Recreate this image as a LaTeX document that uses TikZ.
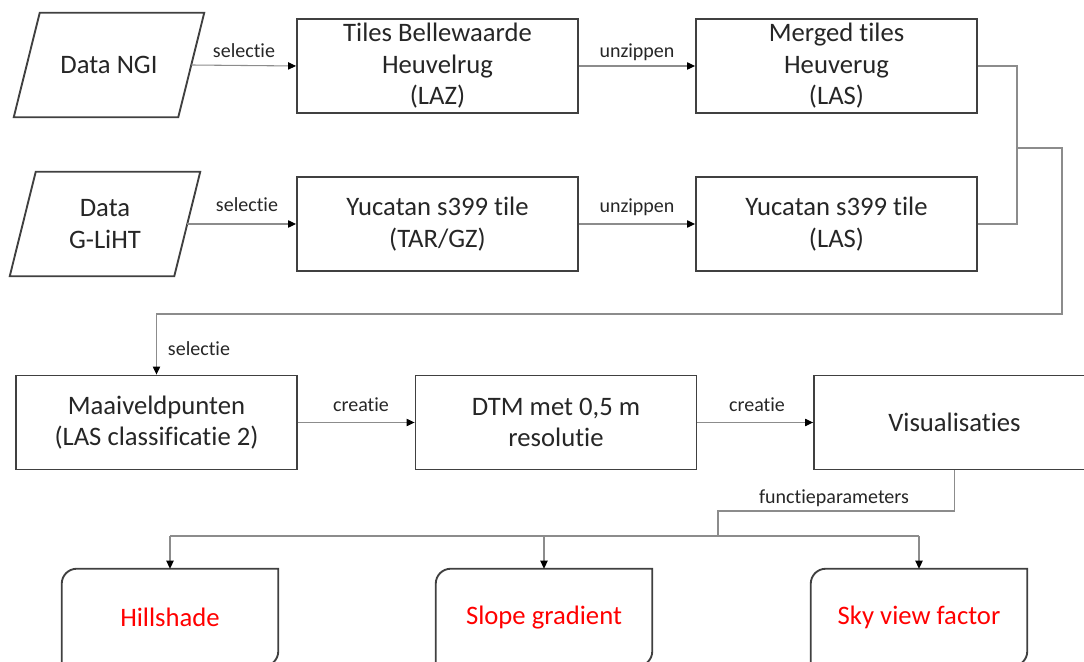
\documentclass[tikz,border=0pt]{standalone}
\usepackage{fontspec}
\setmainfont{Carlito}[Ligatures={NoCommon,NoContextual}]
\usetikzlibrary{arrows.meta,calc}
\definecolor{txt}{HTML}{262626}
\definecolor{bord}{HTML}{404040}
\definecolor{connc}{HTML}{8C8C8C}
\begin{document}
\begin{tikzpicture}[x=0.75pt,y=0.75pt,
  boxnode/.style={draw=bord,line width=1.4pt,minimum width=210.75pt,minimum height=70.5pt,inner sep=0pt,align=center,text=txt,font=\fontsize{20}{23.6}\selectfont},
  ionode/.style={minimum width=123pt,minimum height=78pt,inner sep=0pt,align=center,text=txt,font=\fontsize{20}{23.6}\selectfont},
  endnode/.style={minimum width=162pt,minimum height=72.75pt,inner sep=0pt,align=center,text=red,font=\fontsize{20}{23.6}\selectfont},
  outline/.style={draw=bord,line width=1.4pt},
  conn/.style={draw=connc,line width=0.8pt},
  arr/.style={conn,-{Triangle[length=6pt,width=5.5pt,color=black]}},
  lbl/.style={font=\fontsize{15}{18}\selectfont,text=txt,inner sep=1pt}
]
\useasboundingbox (0,0) rectangle (1084,661);
\begin{scope}
\clip (0,0) rectangle (1084,661);
% row 1
\node[ionode] (ngi) at (109,596) {Data NGI};
\draw[outline] ([xshift=9.75pt]ngi.north west) -- ([xshift=9.75pt]ngi.north east) -- ([xshift=-9.75pt]ngi.south east) -- ([xshift=-9.75pt]ngi.south west) -- cycle;
\node[boxnode] (tiles) at (437.5,595) {Tiles Bellewaarde\\Heuvelrug\\(LAZ)};
\node[boxnode] (merged) at (836.5,595) {Merged tiles\\Heuverug\\(LAS)};
% row 2
\node[ionode] (gliht) at (105,437) {Data\\G-LiHT};
\draw[outline] ([xshift=9.75pt]gliht.north west) -- ([xshift=9.75pt]gliht.north east) -- ([xshift=-9.75pt]gliht.south east) -- ([xshift=-9.75pt]gliht.south west) -- cycle;
\node[boxnode] (yuc1) at (437.5,437) {Yucatan s399 tile\\(TAR/GZ)};
\node[boxnode] (yuc2) at (836.5,437) {Yucatan s399 tile\\(LAS)};
% row 3
\node[boxnode] (maai) at (156.5,238.5) {Maaiveldpunten\\(LAS classificatie 2)};
\node[boxnode] (dtm) at (556,238.5) {DTM met 0,5 m\\resolutie};
\node[boxnode] (vis) at (954.5,238.5) {Visualisaties};
% bottom
\node[endnode] (hill) at (170,43.5) {Hillshade};
\node[endnode] (slope) at (544,43.5) {Slope gradient};
\node[endnode] (sky) at (919,43.5) {Sky view factor};
\foreach \n in {hill,slope,sky}{
  \draw[outline] (\n.south west) -- ([yshift=-11.25pt]\n.north west) arc[start angle=180,end angle=90,radius=11.25pt] -- (\n.north east) -- ([yshift=11.25pt]\n.south east) arc[start angle=0,end angle=-90,radius=11.25pt] -- cycle;
}
% connectors row 1 and 2
\draw[arr] (ngi.east) -- (tiles.west);
\node[lbl] (l1) at (244,610) {selectie};
\draw[arr] (tiles.east) -- (merged.west);
\node[lbl] (l2) at (637,609) {unzippen};
\draw[arr] (gliht.east) -- (yuc1.west);
\node[lbl] (l3) at (247,456) {selectie};
\draw[arr] (yuc1.east) -- (yuc2.west);
\node[lbl] (l4) at (637,454) {unzippen};
% merge
\coordinate (j1) at (1017,513);
\coordinate (j2) at (1062,513);
\coordinate (j3) at (1062,347);
\draw[conn] (merged.east) -| (j1);
\draw[conn] (yuc2.east) -| (j1);
\draw[arr] (j1) -- (j2) -- (j3) -- (maai.north |- j3) -- (maai.north);
\node[lbl] (l5) at (199,312) {selectie};
% row 3
\draw[arr] (maai.east) -- (dtm.west);
\node[lbl] (l6) at (361,256) {creatie};
\draw[arr] (dtm.east) -- (vis.west);
\node[lbl] (l7) at (757,256) {creatie};
% to outputs
\coordinate (k1) at (718,150);
\coordinate (k2) at (718,125);
\draw[conn] (vis.south) -- (vis.south |- k1) -- (k1) -- (k2);
\draw[conn] (hill.north |- k2) -- (sky.north |- k2);
\node[lbl] (l8) at (834,163) {functieparameters};
\draw[arr] (hill.north |- k2) -- (hill.north);
\draw[arr] (slope.north |- k2) -- (slope.north);
\draw[arr] (sky.north |- k2) -- (sky.north);
\end{scope}
\end{tikzpicture}
\end{document}
